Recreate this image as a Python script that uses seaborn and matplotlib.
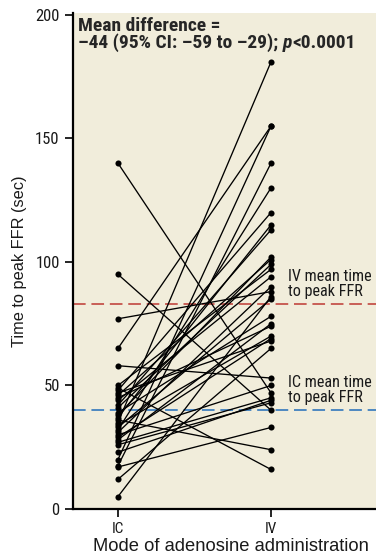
import os
import numpy as np
import pandas as pd
import matplotlib
matplotlib.use("Agg")
import matplotlib.pyplot as plt
from matplotlib import font_manager as fm
import seaborn as sns

# ── Data ─────────────────────────────────────────────────────────────────────
modes = ["IC", "IV"]
ic_times = [140, 95, 77, 65, 58, 50, 49, 48, 47, 46, 45, 44, 42, 41, 39, 38, 37,
            36, 35, 34, 33, 32, 31, 30, 29, 28, 27, 26, 23, 20, 17.5, 17, 12, 5]
iv_times = [47, 40, 88, 155, 53, 97, 16, 120, 68, 101, 74, 94, 113, 99, 78, 102, 115,
            24, 181, 70, 85, 130, 90, 50, 69, 75, 45, 43, 44, 155, 140, 33, 65, 86]
ic_mean = 40
iv_mean = 83
y_ticks = [0, 50, 100, 150, 200]

# long format: one row per measurement, "pair" links IC and IV of one patient
n = len(ic_times)
df = pd.DataFrame({
    "pair": list(range(n)) * 2,
    "pos": [0] * n + [1] * n,
    "time": ic_times + iv_times,
})


# ── Condensed font lookup (reference uses a condensed grotesque) ─────────────
def find_condensed(bold=False, italic=False):
    prefs = ["RobotoCondensed", "LiberationSansNarrow", "NotoSans-Condensed",
             "DejaVuSansCondensed", "OpenSans-Condensed", "OpenSans_Condensed"]
    files = sorted({f.fname for f in fm.fontManager.ttflist})
    for p in prefs:
        for path in files:
            base = os.path.basename(path).replace(" ", "")
            if not base.startswith(p):
                continue
            rest = base[len(p):]
            is_it = "Italic" in rest or "Oblique" in rest
            if is_it != italic:
                continue
            others = any(w in rest for w in ["Light", "Thin", "Medium", "Black",
                                             "Semi", "Extra"])
            if others:
                continue
            if ("Bold" in rest) != bold:
                continue
            return fm.FontProperties(fname=path)
    return None


sns.set_style("ticks")
plt.rcParams["font.family"] = ["Liberation Sans", "DejaVu Sans"]

cond_reg = find_condensed()
cond_bold = find_condensed(bold=True)
cond_bi = find_condensed(bold=True, italic=True)
have_cond = cond_reg is not None and cond_bold is not None
if cond_bi is None:
    cond_bi = cond_bold
shrink = 1.0 if have_cond else 0.86


def fp(kind, size):
    base = {"reg": cond_reg, "bold": cond_bold, "bi": cond_bi}[kind]
    if base is None:
        base = fm.FontProperties(family="DejaVu Sans",
                                 weight="bold" if kind != "reg" else "normal",
                                 style="italic" if kind == "bi" else "normal")
    p = base.copy()
    p.set_size(size * shrink)
    return p


BG = "#F1EDDB"
RED = "#C5544C"
BLUE = "#4080BF"

fig = plt.figure(figsize=(3.76, 5.57), dpi=100)
ax = fig.add_axes([0.194, 0.0862, 0.806, 0.8905])
ax.set_facecolor(BG)

sns.lineplot(data=df, x="pos", y="time", units="pair", estimator=None,
             color="black", linewidth=0.95, marker="o", markersize=4.4,
             markeredgewidth=0, ax=ax, legend=False)

ax.axhline(iv_mean, color=RED, linewidth=1.3, dashes=(7, 3.2), zorder=0.5)
ax.axhline(ic_mean, color=BLUE, linewidth=1.3, dashes=(7, 3.2), zorder=0.5)

ax.set_xlim(-0.294, 1.686)
ax.set_ylim(0, 200.8)
ax.set_xticks([0, 1])
ax.set_xticklabels(modes, fontproperties=fp("reg", 11))
ax.set_yticks(y_ticks)
ax.set_yticklabels([str(t) for t in y_ticks], fontproperties=fp("reg", 12))
ax.tick_params(axis="both", direction="out", length=6, width=1.2, color="black",
               labelcolor="#1a1a1a")

for side in ["top", "right"]:
    ax.spines[side].set_visible(False)
for side in ["left", "bottom"]:
    ax.spines[side].set_linewidth(1.6)
    ax.spines[side].set_color("black")

ax.set_xlabel("Mode of adenosine administration", fontsize=13.2, color="#1a1a1a")
ax.set_ylabel("Time to peak FFR (sec)", fontsize=11.8, color="#1a1a1a")
ax.xaxis.set_label_coords(0.52, -0.058)
ax.yaxis.set_label_coords(-0.15, 0.5)

# ── Annotations ──────────────────────────────────────────────────────────────
ax.text(1.112, iv_mean + 2.2, "IV mean time\nto peak FFR", fontproperties=fp("reg", 11.6),
        va="bottom", ha="left", linespacing=1.0, color="#1a1a1a")
ax.text(1.112, ic_mean + 2.2, "IC mean time\nto peak FFR", fontproperties=fp("reg", 11.6),
        va="bottom", ha="left", linespacing=1.0, color="#1a1a1a")

tx, ty1, ty2 = 0.018, 0.964, 0.929
ax.text(tx, ty1, "Mean difference =", transform=ax.transAxes,
        fontproperties=fp("bold", 14), va="baseline")
t1 = ax.text(tx, ty2, "\u201344 (95% CI: \u201359 to \u201329); ", transform=ax.transAxes,
             fontproperties=fp("bold", 14), va="baseline")
fig.canvas.draw()
bb = t1.get_window_extent()
x2 = ax.transAxes.inverted().transform((bb.x1, bb.y0))[0]
t2 = ax.text(x2, ty2, "p", transform=ax.transAxes, fontproperties=fp("bi", 14),
             va="baseline")
fig.canvas.draw()
bb = t2.get_window_extent()
x3 = ax.transAxes.inverted().transform((bb.x1, bb.y0))[0]
ax.text(x3, ty2, "<0.0001", transform=ax.transAxes, fontproperties=fp("bold", 14),
        va="baseline")

fig.savefig("out.png", dpi=100, facecolor="white")
